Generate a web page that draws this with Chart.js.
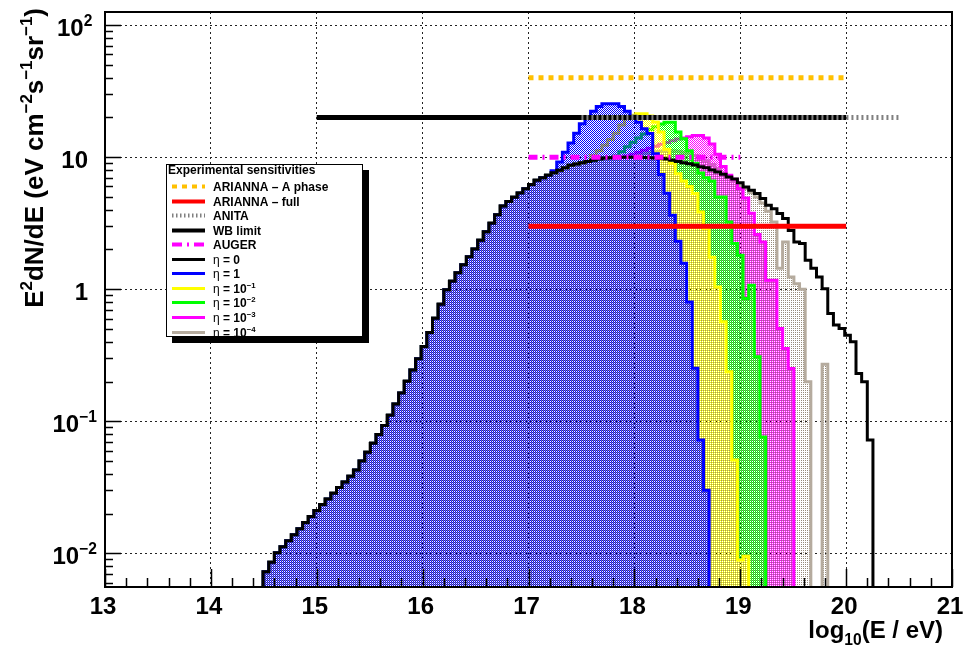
<!DOCTYPE html>
<html>
<head>
<meta charset="utf-8">
<script src="https://cdn.jsdelivr.net/npm/chart.js@4.4.1/dist/chart.umd.min.js"></script>
<style>
  html, body { margin: 0; padding: 0; background: #fff; }
</style>
</head>
<body>
<canvas id="chart" width="965" height="648"></canvas>
<script>
// histogram binning: 150 bins over log10(E/eV) = 13..21, first filled bin is #28
const X_MIN = 13, X_MAX = 21, N_BINS = 150, FIRST_BIN = 28;
const Y_MIN = 0.00556, Y_MAX = 125.7;

const xTickValues = [13, 14, 15, 16, 17, 18, 19, 20, 21];
const xTickLabels = ['13', '14', '15', '16', '17', '18', '19', '20', '21'];
const yGridValues = [0.01, 0.1, 1, 10, 100];
const yTickLabels = [['10', '\u22122'], ['10', '\u22121'], ['1', ''], ['10', ''], ['10', '2']];

// eta = 0, bins 28..135
const eta0 = [
  0.00724, 0.00857, 0.0101, 0.0112, 0.01245, 0.01383, 0.01537, 0.0171, 0.0190, 0.0211,
  0.0234, 0.0258, 0.0285, 0.0315, 0.0347, 0.0383, 0.0428, 0.0500, 0.0583, 0.0682,
  0.0795, 0.0929, 0.111, 0.135, 0.164, 0.201, 0.244, 0.297, 0.369, 0.470,
  0.604, 0.771, 0.990, 1.15, 1.33, 1.53, 1.76, 2.02, 2.35, 2.73,
  3.16, 3.67, 4.27, 4.62, 4.97, 5.36, 5.77, 6.21, 6.68, 6.99,
  7.30, 7.63, 7.96, 8.33, 8.68, 8.89, 9.08, 9.27, 9.48, 9.68,
  9.86, 9.90, 9.93, 9.97, 10.0, 10.0, 10.0, 9.93, 9.90, 9.84,
  9.76, 9.68, 9.48, 9.28, 9.09, 8.90, 8.71, 8.47, 8.30, 8.00,
  7.73, 7.44, 7.08, 6.82, 6.40, 5.94, 5.61, 5.30, 4.86, 4.32,
  4.07, 3.74, 3.43, 2.79, 2.28, 2.22, 1.66, 1.44, 1.24, 1.01,
  0.655, 0.535, 0.505, 0.449, 0.40, 0.23, 0.199, 0.072
];
// other eta values: same as eta = 0 below the given bin, then these
const eta1From = 79;
const eta1Tail = [7.9, 9.18, 10.9, 12.8, 15.2, 17.9, 19.5, 22.3, 24.2, 25.4, 25.4, 25.4, 24.2, 22.3,
  20.4, 18.4, 16.4, 15.1, 10.6, 7.4, 5.32, 3.63, 2.31, 1.57, 0.80, 0.252, 0.072, 0.030];
const etaM1From = 86;
const etaM1Tail = [10.3, 11.2, 12.3, 13.6, 15.2, 17.5, 19.5, 20.8, 21.3, 21.3, 20.5, 18.5, 15.5, 11.5,
  9.0, 7.5, 6.6, 6.0, 5.3, 3.85, 2.9, 1.75, 1.04, 0.566, 0.237, 0.0509, 0.0089, 0.0095];
const etaM2From = 90;
const etaM2Tail = [10.2, 11.0, 12.0, 13.0, 14.0, 15.0, 16.2, 17.0, 17.8, 18.4, 18.4, 15.5, 13.8, 11.2,
  9.0, 7.6, 7.0, 6.6, 4.99, 4.99, 3.23, 2.22, 1.81, 0.85, 1.07, 0.308, 0.076];
const etaM3From = 92;
const etaM3Tail = [10.2, 10.5, 10.9, 11.3, 11.7, 12.1, 12.5, 12.9, 13.3, 13.7, 14.0, 14.3, 14.6, 14.6,
  14.0, 12.6, 10.5, 8.5, 7.3, 6.8, 5.8, 4.9, 3.76, 2.6, 2.28, 1.17, 1.17, 0.505, 0.356, 0.251];
const etaM4From = 92;
const etaM4Tail = [10.1, 10.3, 10.5, 10.7, 10.9, 11.0, 11.1, 11.2, 11.2, 11.1, 10.9, 10.6, 10.3, 9.9,
  9.4, 8.8, 8.2, 7.6, 7.0, 6.6, 6.1, 5.8, 5.4, 5.0, 4.5, 3.9, 3.23, 1.44, 2.28, 1.24, 1.10, 1.0,
  0.199, 0, 0, 0.27];

// experimental sensitivities [log10 E, E^2 dN/dE]
const ariannaA = [[17, 40], [20, 40]];
const ariannaFull = [[17, 3], [20, 3]];
const anita = [[17.5, 20], [20.5, 20]];
const wbLimit = [[15, 20], [20, 20]];
const auger = [[17, 10], [19, 10]];

const FONT = '"Liberation Sans", Arial, Helvetica, sans-serif';

const st = {
  ariannaA: { color: '#ffc000', width: 5, dash: [5, 5] },
  ariannaFull: { color: '#ff0000', width: 5, dash: [] },
  anita: { color: '#808080', width: 5, dash: [2, 3] },
  wb: { color: '#000000', width: 5, dash: [] },
  auger: { color: '#ff00ff', width: 5, dash: [9, 5, 2, 5] },
  eta0: { color: '#000000', width: 3, dash: [] },
  eta1: { color: '#0000ff', width: 3, dash: [] },
  etaM1: { color: '#ffff00', width: 3, dash: [] },
  etaM2: { color: '#00ff00', width: 3, dash: [] },
  etaM3: { color: '#ff00ff', width: 3, dash: [] },
  etaM4: { color: '#b5ab9e', width: 3, dash: [] },
};

const binW = (X_MAX - X_MIN) / N_BINS;
const FLOOR = 1e-4;

function withBase(from, tail) {
  return eta0.slice(0, from - FIRST_BIN).concat(tail);
}

function histPoints(vals) {
  const pts = [{ x: X_MIN + FIRST_BIN * binW, y: FLOOR }];
  vals.forEach((v, i) => pts.push({ x: X_MIN + (FIRST_BIN + i) * binW, y: v > 0 ? v : FLOOR }));
  pts.push({ x: X_MIN + (FIRST_BIN + vals.length) * binW, y: FLOOR });
  return pts;
}

const canvas = document.getElementById('chart');
const mainCtx = canvas.getContext('2d');

function makePattern(color, cells) {
  const c = document.createElement('canvas');
  c.width = 2; c.height = 2;
  const g = c.getContext('2d');
  g.fillStyle = color;
  cells.forEach(([cx, cy]) => g.fillRect(cx, cy, 1, 1));
  return mainCtx.createPattern(c, 'repeat');
}

const diag = [[0, 0], [1, 1]];
const pat = {
  eta1: makePattern('#0000ff', diag),
  etaM1: makePattern('#ffff00', diag),
  etaM2: makePattern('#00ff00', diag),
  etaM3: makePattern('#ff00ff', diag),
  etaM4: makePattern('#968b7b', [[1, 0]]),
};

function lineSet(pts, s) {
  return {
    data: pts.map(([x, y]) => ({ x, y })),
    borderColor: s.color, borderWidth: s.width, borderDash: s.dash,
    borderCapStyle: 'butt', pointRadius: 0, fill: false,
  };
}

function histSet(vals, s, fillPattern) {
  return {
    data: histPoints(vals),
    borderColor: s.color, borderWidth: s.width, stepped: 'before',
    fill: fillPattern ? 'start' : false,
    backgroundColor: fillPattern || 'transparent',
    pointRadius: 0, borderJoinStyle: 'miter',
  };
}

// text helpers (bold with sup/sub parts)
function setFont(ctx, size, weight) { ctx.font = weight + ' ' + size + 'px ' + FONT; }
function partFont(p, size) {
  return [(p.sup || p.sub) ? size * 0.65 : size, p.regular ? 'normal' : 'bold'];
}
function richWidth(ctx, parts, size) {
  let w = 0;
  parts.forEach(p => { const [s, wt] = partFont(p, size); setFont(ctx, s, wt); w += ctx.measureText(p.t).width; });
  return w;
}
function drawRich(ctx, parts, x, y, size) {
  parts.forEach(p => {
    const [s, wt] = partFont(p, size);
    setFont(ctx, s, wt);
    const dy = p.sup ? -size * 0.42 : p.sub ? size * 0.3 : 0;
    ctx.fillText(p.t, x, y + dy);
    x += ctx.measureText(p.t).width;
  });
  return x;
}

const etaLabel = (base, exp) => exp
  ? [{ t: '\u03b7', regular: true }, { t: ' = ' + base }, { t: exp, sup: true }]
  : [{ t: '\u03b7', regular: true }, { t: ' = ' + base }];

const legendItems = [
  { parts: [{ t: 'ARIANNA \u2013 A phase' }], s: st.ariannaA, w: 4 },
  { parts: [{ t: 'ARIANNA \u2013 full' }], s: st.ariannaFull, w: 4 },
  { parts: [{ t: 'ANITA' }], s: { color: '#808080', dash: [1.5, 2.5] }, w: 4 },
  { parts: [{ t: 'WB limit' }], s: st.wb, w: 4 },
  { parts: [{ t: 'AUGER' }], s: { color: '#ff00ff', dash: [10, 5, 2, 5] }, w: 4 },
  { parts: etaLabel('0'), s: st.eta0, w: 3 },
  { parts: etaLabel('1'), s: st.eta1, w: 3 },
  { parts: etaLabel('10', '\u22121'), s: st.etaM1, w: 3 },
  { parts: etaLabel('10', '\u22122'), s: st.etaM2, w: 3 },
  { parts: etaLabel('10', '\u22123'), s: st.etaM3, w: 3 },
  { parts: etaLabel('10', '\u22124'), s: st.etaM4, w: 3 },
];

const decor = {
  id: 'decor',
  afterDraw(chart) {
    const { ctx, chartArea: a, scales: { x, y } } = chart;
    ctx.save();
    ctx.setLineDash([]);
    ctx.strokeStyle = '#000';
    ctx.fillStyle = '#000';

    // tick marks (inside the frame)
    ctx.lineWidth = 1.5;
    ctx.beginPath();
    for (let i = 0; i <= 40; i++) {
      const px = Math.round(x.getPixelForValue(X_MIN + i * 0.2)) + 0.5;
      const len = i % 5 === 0 ? 18 : 9;
      ctx.moveTo(px, a.bottom); ctx.lineTo(px, a.bottom - len);
    }
    for (let d = -3; d <= 2; d++) {
      for (let m = 1; m <= 9; m++) {
        const v = m * Math.pow(10, d);
        if (v < Y_MIN || v > Y_MAX) continue;
        const py = Math.round(y.getPixelForValue(v)) + 0.5;
        const len = m === 1 ? 16 : 8;
        ctx.moveTo(a.left, py); ctx.lineTo(a.left + len, py);
      }
    }
    ctx.stroke();

    // frame
    ctx.lineWidth = 2;
    ctx.strokeRect(a.left, a.top, a.right - a.left, a.bottom - a.top);

    // x tick labels
    ctx.textBaseline = 'alphabetic';
    ctx.textAlign = 'center';
    setFont(ctx, 24, 'bold');
    xTickValues.forEach((v, i) => {
      ctx.fillText(xTickLabels[i], x.getPixelForValue(v) - 2, a.bottom + 27);
    });

    // y tick labels
    ctx.textAlign = 'left';
    yGridValues.forEach((v, i) => {
      const [b, e] = yTickLabels[i];
      const parts = e ? [{ t: b }, { t: e, sup: true }] : [{ t: b }];
      const supW = e ? richWidth(ctx, [{ t: e, sup: true }], 24) : 0;
      const w = richWidth(ctx, parts, 24);
      const right = 88 + supW / 2;
      drawRich(ctx, parts, right - w, y.getPixelForValue(v) + 10.5, 24);
    });

    // x title
    const xt = [{ t: 'log' }, { t: '10', sub: true }, { t: '(E / eV)' }];
    drawRich(ctx, xt, 943 - richWidth(ctx, xt, 24), 638, 24);

    // y title
    const yt = [{ t: 'E' }, { t: '2', sup: true }, { t: 'dN/dE (eV cm' }, { t: '\u22122', sup: true },
      { t: 's' }, { t: '\u22121', sup: true }, { t: 'sr' }, { t: '\u22121', sup: true }, { t: ')' }];
    const ytw = richWidth(ctx, yt, 26);
    ctx.save();
    ctx.translate(43, 8 + ytw);
    ctx.rotate(-Math.PI / 2);
    drawRich(ctx, yt, 0, 0, 26);
    ctx.restore();

    // legend box with shadow
    const lx = 166, ly = 164, lw = 197, lh = 173;
    ctx.fillStyle = '#000';
    ctx.fillRect(lx + 6, ly + 6, lw, lh);
    ctx.fillStyle = '#fff';
    ctx.fillRect(lx, ly, lw, lh);
    ctx.lineWidth = 1;
    ctx.strokeStyle = '#000';
    ctx.strokeRect(lx + 0.5, ly + 0.5, lw - 1, lh - 1);
    ctx.fillStyle = '#000';
    drawRich(ctx, [{ t: 'Experimental sensitivities' }], 168, 174, 12);
    legendItems.forEach((it, i) => {
      const cy = Math.round(186 + i * 14.55) + 0.5;
      ctx.save();
      ctx.strokeStyle = it.s.color;
      ctx.lineWidth = it.w;
      ctx.setLineDash(it.s.dash || []);
      ctx.beginPath();
      ctx.moveTo(172, cy); ctx.lineTo(205, cy);
      ctx.stroke();
      ctx.restore();
      ctx.fillStyle = '#000';
      drawRich(ctx, it.parts, 213, cy + 4.5, 12);
    });
    ctx.restore();
  }
};

new Chart(mainCtx, {
  type: 'line',
  data: {
    datasets: [
      lineSet(auger, st.auger),
      lineSet(ariannaA, st.ariannaA),
      lineSet(ariannaFull, st.ariannaFull),
      lineSet(anita, st.anita),
      lineSet(wbLimit, st.wb),
      histSet(eta0, st.eta0, null),
      histSet(withBase(eta1From, eta1Tail), st.eta1, pat.eta1),
      histSet(withBase(etaM1From, etaM1Tail), st.etaM1, pat.etaM1),
      histSet(withBase(etaM2From, etaM2Tail), st.etaM2, pat.etaM2),
      histSet(withBase(etaM3From, etaM3Tail), st.etaM3, pat.etaM3),
      histSet(withBase(etaM4From, etaM4Tail), st.etaM4, pat.etaM4),
    ],
  },
  options: {
    responsive: false,
    animation: false,
    events: [],
    layout: { padding: { left: 105, top: 12, right: 13, bottom: 61 } },
    elements: { line: { tension: 0 } },
    plugins: { legend: { display: false }, tooltip: { enabled: false } },
    scales: {
      x: {
        type: 'linear', min: X_MIN, max: X_MAX,
        ticks: { display: false },
        afterBuildTicks: (s) => { s.ticks = xTickValues.map((v) => ({ value: v })); },
        grid: { color: '#222', lineWidth: 1, drawTicks: false },
        border: { display: false, dash: [2, 3] },
      },
      y: {
        type: 'logarithmic', min: Y_MIN, max: Y_MAX,
        ticks: { display: false },
        afterBuildTicks: (s) => { s.ticks = yGridValues.map((v) => ({ value: v })); },
        grid: { color: '#222', lineWidth: 1, drawTicks: false },
        border: { display: false, dash: [2, 3] },
      },
    },
  },
  plugins: [decor],
});
</script>
</body>
</html>
